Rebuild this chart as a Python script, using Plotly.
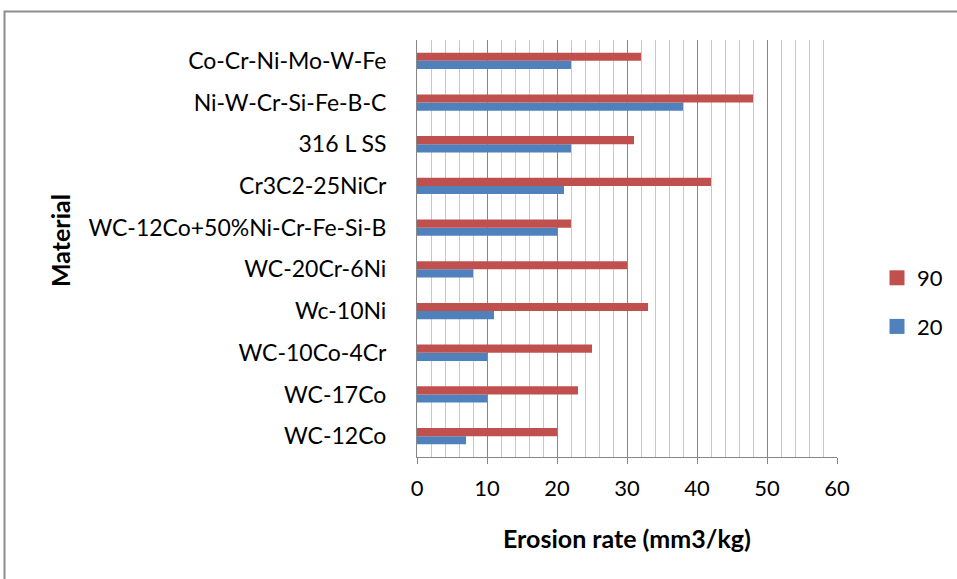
import plotly.graph_objects as go

# Materials listed bottom to top
materials = [
    "WC-12Co",
    "WC-17Co",
    "WC-10Co-4Cr",
    "Wc-10Ni",
    "WC-20Cr-6Ni",
    "WC-12Co+50%Ni-Cr-Fe-Si-B",
    "Cr3C2-25NiCr",
    "316 L SS",
    "Ni-W-Cr-Si-Fe-B-C",
    "Co-Cr-Ni-Mo-W-Fe",
]
series_names = ["20", "90"]
series_colors = ["#4F81BD", "#C0504D"]
rate_20 = [7, 10, 10, 11, 8, 20, 21, 22, 38, 22]
rate_90 = [20, 23, 25, 33, 30, 22, 42, 31, 48, 32]

FONT = "Lato, Carlito, Calibri, sans-serif"

fig = go.Figure()
for name, color, vals, rank in zip(series_names, series_colors,
                                   [rate_20, rate_90], [2, 1]):
    fig.add_trace(go.Bar(
        y=materials, x=vals, orientation="h", name=name,
        marker=dict(color=color, line=dict(width=0)),
        showlegend=False,
    ))
    # larger square swatch for the legend entry
    fig.add_trace(go.Scatter(
        x=[None], y=[None], mode="markers", name=name,
        marker=dict(symbol="square", size=15, color=color),
        legendgroup=name, legendrank=rank, hoverinfo="skip",
    ))

L, R, T, B = 417, 120, 40, 122
W, H = 957, 579
pw, ph = W - L - R, H - T - B

fig.update_layout(
    width=W, height=H,
    margin=dict(l=L, r=R, t=T, b=B, autoexpand=False),
    paper_bgcolor="white", plot_bgcolor="white",
    barmode="group", bargap=0.61, bargroupgap=0,
    font=dict(family=FONT, size=22, color="black"),
    showlegend=True,
    legend=dict(
        x=(877 - L) / pw, y=1 - (257 - T) / ph, xanchor="left", yanchor="top",
        traceorder="grouped", tracegroupgap=17,
        font=dict(size=22), bgcolor="rgba(0,0,0,0)",
        itemwidth=30,
    ),
    xaxis=dict(
        range=[0, 60], dtick=10, tick0=0,
        showgrid=True, gridcolor="#868686", gridwidth=1,
        minor=dict(dtick=2, showgrid=True, gridcolor="#C8C8C8", gridwidth=1,
                   ticks=""),
        showline=True, linecolor="#868686", linewidth=1,
        ticks="outside", ticklen=6, tickcolor="#868686",
        ticklabelstandoff=6,
        zeroline=False, fixedrange=True,
        tickfont=dict(size=22),
    ),
    yaxis=dict(
        showgrid=False, showline=True, linecolor="#868686", linewidth=1,
        ticks="", ticklabelstandoff=25, fixedrange=True,
        tickfont=dict(size=23),
    ),
    annotations=[
        dict(text="<b>Erosion rate (mm3/kg)</b>", xref="paper", yref="paper",
             x=(627 - L) / pw, y=1 - (538 - T) / ph, showarrow=False,
             font=dict(size=25), xanchor="center", yanchor="middle"),
        dict(text="<b>Material</b>", xref="paper", yref="paper",
             x=(60 - L) / pw, y=1 - (241 - T) / ph, showarrow=False,
             textangle=-90, font=dict(size=25), xanchor="center", yanchor="middle"),
    ],
    shapes=[
        dict(type="rect", xref="paper", yref="paper",
             x0=(4.5 - L) / pw, x1=2, y0=-1, y1=1 + (T - 11.5) / ph,
             line=dict(color="#8C8C8C", width=2), fillcolor="rgba(0,0,0,0)",
             layer="below"),
    ],
)

fig.write_html("out.html")
